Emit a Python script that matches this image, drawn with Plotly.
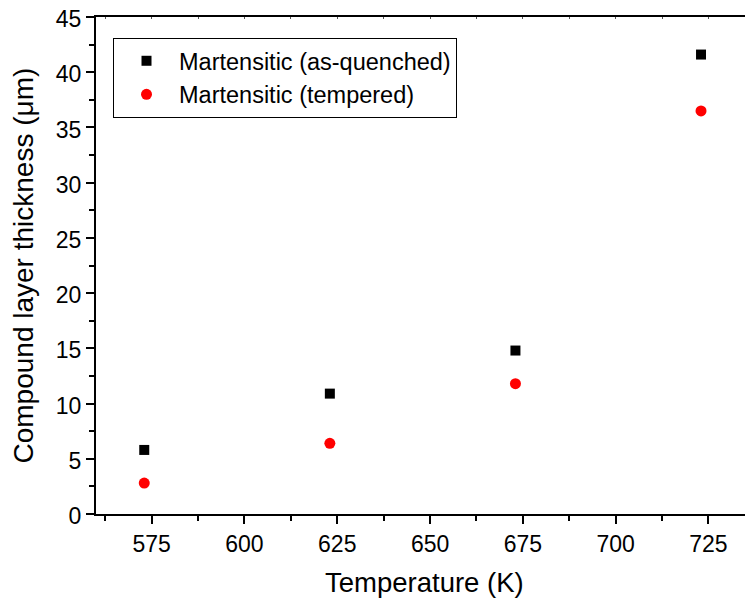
import plotly.graph_objects as go

temperature = [573, 623, 673, 723]
as_quenched = [5.8, 10.9, 14.8, 41.6]
tempered = [2.8, 6.4, 11.8, 36.5]
x_ticks = [575, 600, 625, 650, 675, 700, 725]
y_ticks = [0, 5, 10, 15, 20, 25, 30, 35, 40, 45]

# page body has an 8px margin; size the figure so it ends at the window edge
OFF = 8
W, H = 753 - OFF, 599 - OFF
ML, MR, MT, MB = 96 - OFF, 0, 17 - OFF, 599 - 514
PW, PH = W - ML - MR, H - MT - MB

fig = go.Figure()
fig.add_trace(go.Scatter(x=temperature, y=as_quenched, mode="markers",
                         name="Martensitic (as-quenched)",
                         marker=dict(symbol="square", size=10, color="black")))
fig.add_trace(go.Scatter(x=temperature, y=tempered, mode="markers",
                         name="Martensitic (tempered)",
                         marker=dict(symbol="circle", size=11, color="red")))
# invisible trace for top axis
fig.add_trace(go.Scatter(x=[560, 737], y=[0, 0], mode="markers", xaxis="x2",
                         marker=dict(opacity=0), showlegend=False, hoverinfo="skip"))

font = "Arial, Liberation Sans, sans-serif"
tick_font = dict(size=23, family=font, color="black")
fig.update_layout(
    width=W, height=H,
    margin=dict(l=ML, r=MR, t=MT, b=MB, autoexpand=False),
    paper_bgcolor="white", plot_bgcolor="white",
    font=dict(family=font, color="black", size=23),
    showlegend=True,
    legend=dict(x=(113 - 96) / PW, y=(514 - 38) / PH,
                xanchor="left", yanchor="top",
                bordercolor="black", borderwidth=1, bgcolor="white",
                font=dict(size=23.5, family=font), itemwidth=55,
                tracegroupgap=0),
    xaxis=dict(range=[560, 737], tickvals=x_ticks, ticks="outside", ticklen=8,
               tickwidth=2, tickcolor="black", showline=True, linewidth=2,
               linecolor="black", showgrid=False, zeroline=False, automargin=False,
               tickfont=tick_font, mirror=True, ticklabeloverflow="allow",
               minor=dict(dtick=12.5, tick0=562.5, ticks="outside", ticklen=5,
                          tickwidth=2, tickcolor="black", showgrid=False)),
    xaxis2=dict(range=[560, 737], overlaying="x", side="top", tickvals=x_ticks,
                ticks="inside", ticklen=2, tickwidth=1, tickcolor="#555",
                showticklabels=False, showgrid=False, zeroline=False, automargin=False,
                minor=dict(dtick=12.5, tick0=562.5, ticks="inside", ticklen=2,
                           tickwidth=1, tickcolor="#555", showgrid=False)),
    yaxis=dict(range=[0, 45], tickvals=y_ticks, ticks="outside", ticklen=8,
               tickwidth=2, tickcolor="black", showline=True, linewidth=2,
               linecolor="black", showgrid=False, zeroline=False, automargin=False,
               tickfont=tick_font, ticklabeloverflow="allow", ticklabelshift=2,
               minor=dict(dtick=2.5, ticks="outside", ticklen=5, tickwidth=2,
                          tickcolor="black", showgrid=False)),
    annotations=[
        dict(text="Temperature (K)", xref="paper", yref="paper",
             x=0.5, y=-(582 - 514) / PH, xanchor="center",
             yanchor="middle", showarrow=False, font=dict(size=27.5, family=font)),
        dict(text="Compound layer thickness (μm)", xref="paper", yref="paper",
             x=-(96 - 23) / PW, y=0.5, xanchor="center",
             yanchor="middle", textangle=-90, showarrow=False,
             font=dict(size=28, family=font)),
    ],
)
fig.write_html("out.html")
